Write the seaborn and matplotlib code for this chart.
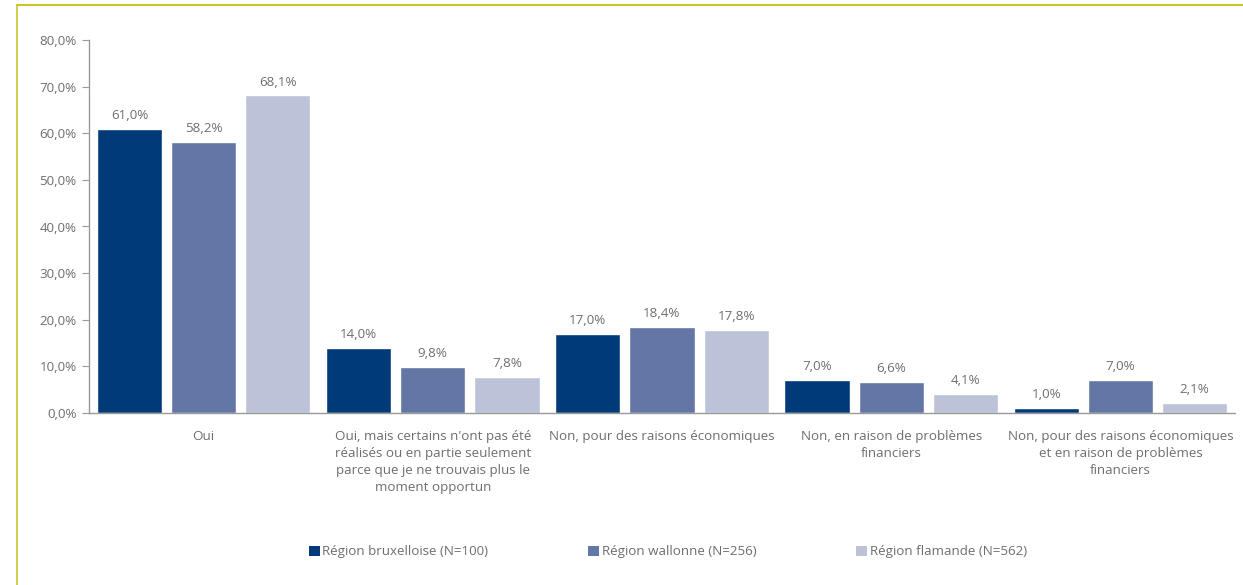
import matplotlib
matplotlib.use("Agg")
import matplotlib.pyplot as plt
import seaborn as sns
import pandas as pd
from matplotlib.lines import Line2D
from matplotlib.patches import Patch

categories = [
    "Oui",
    "Oui, mais certains n'ont pas été\nréalisés ou en partie seulement\nparce que je ne trouvais plus le\nmoment opportun",
    "Non, pour des raisons économiques",
    "Non, en raison de problèmes\nfinanciers",
    "Non, pour des raisons économiques\net en raison de problèmes\nfinanciers",
]
regions = ["Région bruxelloise (N=100)", "Région wallonne (N=256)", "Région flamande (N=562)"]
bruxelles = [61.0, 14.0, 17.0, 7.0, 1.0]
wallonie = [58.2, 9.8, 18.4, 6.6, 7.0]
flandre = [68.1, 7.8, 17.8, 4.1, 2.1]
colors = ["#003a78", "#6476a5", "#bcc3d9"]
grey = "#6e6e6e"
fs = 9.6

rows = []
for reg, vals in zip(regions, [bruxelles, wallonie, flandre]):
    for cat, v in zip(categories, vals):
        rows.append({"cat": cat, "region": reg, "val": v})
df = pd.DataFrame(rows)

sns.set_style("white")
plt.rcParams["font.family"] = ["Open Sans", "DejaVu Sans"]

fig = plt.figure(figsize=(12.43, 5.85), dpi=100)
ax = fig.add_axes([89 / 1243, 1 - 413 / 585, (1235 - 89) / 1243, (413 - 40) / 585])

sns.barplot(data=df, x="cat", y="val", hue="region", palette=colors,
            width=0.97, gap=0.12, saturation=1, ax=ax, legend=False)

for cont in ax.containers:
    ax.bar_label(cont, labels=[f"{v:.1f}%".replace(".", ",") for v in cont.datavalues],
                 padding=5, fontsize=fs, color=grey)

ax.set_xlim(-0.5, 4.5)
ax.set_ylim(0, 80)
ax.set_yticks(range(0, 81, 10))
ax.set_yticklabels([f"{v},0%" for v in range(0, 81, 10)], fontsize=fs, color=grey)
ax.set_xticks([i - 0.5 for i in range(6)])
ax.set_xticklabels([])
ax.set_xticks(range(5), minor=True)
ax.set_xticklabels(categories, minor=True, fontsize=fs, color=grey, linespacing=1.4,
                   va="top")
ax.tick_params(axis="x", which="minor", length=0, pad=12)
ax.tick_params(axis="x", which="major", length=5, color="#999999", direction="out")
ax.tick_params(axis="y", length=5, color="#999999", direction="out", pad=4, left=True)
ax.set_xlabel("")
ax.set_ylabel("")
for s in ["top", "right"]:
    ax.spines[s].set_visible(False)
for s in ["left", "bottom"]:
    ax.spines[s].set_color("#999999")
    ax.spines[s].set_linewidth(1)

handles = [Patch(facecolor=c, edgecolor="none") for c in colors]
fig.legend(handles, regions, loc="center", bbox_to_anchor=(668 / 1243, 1 - 552 / 585),
           ncol=3, frameon=False, fontsize=fs, labelcolor=grey, handlelength=0.8,
           handleheight=0.8, handletextpad=0.2, columnspacing=7.5)

# frame lines
frame = "#c9c62c"
fig.add_artist(Line2D([17 / 1243, 1], [1 - 5 / 585, 1 - 5 / 585], color=frame, lw=1.5))
fig.add_artist(Line2D([17 / 1243, 17 / 1243], [0, 1 - 5 / 585], color=frame, lw=1.2))

fig.savefig("out.png", dpi=100)
